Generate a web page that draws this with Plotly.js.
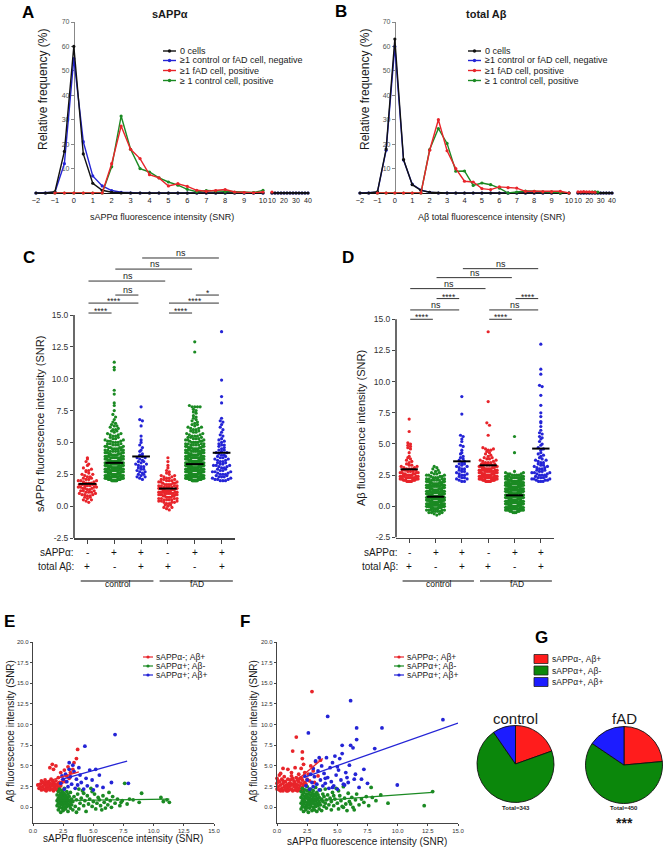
<!DOCTYPE html>
<html><head><meta charset="utf-8">
<script src="https://cdn.plot.ly/plotly-3.0.1.min.js"></script>
<style>html,body{margin:0;padding:0;background:#fff}#chart{width:666px;height:853px}</style>
</head><body><div id="chart"></div>
<script>
const W=666,H=853;
const FONT='Liberation Sans, Arial, Helvetica, sans-serif';
const RED='#e8242a',GREEN='#1b8a23',BLUE='#2424d6',BLACK='#111111';
const PRED='#ff1c1c',PGREEN='#0b870b',PBLUE='#1c1cff';

// ---------- Panels A/B: frequency distributions ----------
const binX=[-2,-1.5,-1,-0.5,0,0.5,1,1.5,2,2.5,3,3.5,4,4.5,5,5.5,6,6.5,7,7.5,8,8.5,9,9.5,10];
const tailX=[10,12.5,15,17.5,20,22.5,25,27.5,30,32.5,35,37.5,40];
const aBlack=[0,0,0.5,17,60,16,4,1.1,0.3,0,0,0,0,0,0,0,0,0,0,0,0,0,0,0,0];
const aBlue=[0,0,0.3,12,55,21,7,2.9,1,0.3,0,0,0,0,0,0,0,0,0,0,0,0,0,0,0];
const aRed=[null,null,0,0,0,0,0,0,12,27.4,17.9,14.1,7.5,6.2,2.9,3.8,2.7,1.1,0.7,1,1.4,0.4,0.2,0.1,0.4];
const aGreen=[null,null,0,0,0,0,0,0,10.7,31.5,17.9,10,8.6,6.2,4.5,3.2,1.5,0.5,1,0.8,0.5,0.3,0.2,0.2,1.1];
const aBlackT=[0,0,0,0,0,0,0,0,0,0,0,0,0];
const aRedT=[0.4,null,null,null,null,null,null,null,null,null,null,null,null];
const aGreenT=[null,null,null,null,null,null,null,null,null,null,null,null,null];
const bBlack=[0,0,0.5,18,63,13.7,3.4,1.1,0.3,0,0,0,0,0,0,0,0,0,0,0,0,0,0,0,0];
const bBlue=[0,0,0.3,17.5,60,13.5,3.6,1.2,0.3,0,0,0,0,0,0,0,0,0,0,0,0,0,0,0,0];
const bRed=[null,null,0,0,0,0,0,0,17.5,30,17.3,10,4.8,4.5,1.8,1.4,2.5,2.2,2,0.7,0.7,0.5,0.5,0.7,0];
const bGreen=[null,null,0,0,0,0,0,0,17.8,26.4,20.3,8.9,9,3.1,4.1,3.4,2,0,0.4,0.8,0.7,0.5,0.5,0,0];
const bBlackT=[0,0,0,0,0,0,0,0,0,0,0,0,0];
const bRedT=[0.5,0.5,0.6,0.5,0.5,0.4,0.3,null,null,null,null,null,null];
const bGreenT=[null,null,null,null,null,0.4,0.5,0.4,null,null,null,null,null];
const histLegend=['0 cells','≥1 control or fAD cell, negative','≥1 fAD cell, positive','≥ 1 control cell, positive'];

// ---------- Panels C/D: per-cell intensities (rows of 0.1 SNR, counts) ----------
const groupColors=[RED,GREEN,BLUE,RED,GREEN,BLUE];
const sappSign=['-','+','+','-','+','+'];
const abSign=['+','-','+','+','-','+'];
const cStart=[0.3,2.0,2.1,-0.3,2.0,2.0];
const cCounts=[
 [1,1,2,1,2,2,3,2,3,3,2,3,4,3,4,3,2,3,2,2,2,1,2,1,1,2,1,1,0,1,1,0,1,0,1,1],
 [7,8,8,8,8,8,8,8,8,8, 8,8,7,7,7,7,6,6,6,5, 5,5,5,4,4,4,4,3,3,3, 3,3,2,2,2,2,2,2,1,2, 2,1,1,2,1,1,1,0,1,0, 1,0,1,0,0,1,0,0,0,1, 0,1,0,0,0,0,0,0,1,0, 0,1,0,0,0,0,0,0,0,0, 0,0,0,0,0,0,0,1,0,1, 0,0,0,1],
 [1,1,2,1,2,1,2,1,2, 1,2,1,2,1,2,1,1,2,1, 1,1,0,1,1,0,1,0,1,0, 1,0,1,0,0,1,0,0,0,0, 0,0,0,1,0,0,0,1,1,0, 0,0,0,0,0,0,0,0,1],
 [1,1,2, 1,2,2,3,3,4,4,4,4,5, 5,5,5,5,5,4,4,4,3,3, 3,3,2,2,2,1,1,1,1,0, 1,0,1,0,0,1,0,0,1],
 [8,9,9,9,9,9,9,9,9,9, 9,9,8,8,8,8,7,7,7,7, 6,6,6,5,5,5,5,4,4,4, 4,3,3,3,3,3,2,2,2,2, 2,2,2,1,2,1,1,1,1,1, 1,1,0,1,1,1,1,0,4,1],
 [3,3,2,3,2,3,2,3,2,2, 2,2,3,2,2,2,2,2,2,2, 2,1,2,1,2,1,1,1,2,1, 1,1,1,1,0,1,1,0,1,0, 1,0,1,0,1,0,1,1,0,1]
];
const cExtra=[[],[],[],[],[12.1,12.9],[8.1,8.6,9.9,13.7]];
const cMid=[1.75,3.4,3.9,1.38,3.3,4.19];
const cSig=[[1,2,15.16,'****'],[1,3,15.94,'****'],[2,3,16.57,'ns'],[1,4,17.67,'ns'],[2,5,18.61,'ns'],[3,6,19.48,'ns'],[4,5,15.16,'****'],[4,6,15.94,'****'],[5,6,16.57,'*']];

const dStart=[2.0,-0.7,2.0,2.0,-0.5,2.0];
const dCounts=[
 [5,6,6,5,5,4,4,4,3,3, 3,2,2,2,1,1,1,1,1,1, 1,0,0,1,0,0,1,1,1,1, 1,1],
 [1,2,3,4,5,6,7, 9,9,9,9,9,9,9,9,9,9, 8,8,8,7,7,7,6,6,6,5, 5,4,4,3,3,3,2,2,1,1, 1,1,1],
 [2,1,2,2,1,2,2,1,2,1, 2,1,2,1,2,1,1,1,1,1, 1,0,1,1,0,1,0,0,1,1, 0,0,1,0,1,0,1,1],
 [6,7,7,7,7,6,6,6,5,5, 5,4,4,3,3,3,2,2,2,2, 1,1,1,1,1,2,2,1,0,0, 0,0,0,0,0,0,0,1],
 [3,4,6,8,9, 9,9,9,9,9,9,9,9,9,9, 9,9,9,9,9,9,8,8,8,8, 7,7,6,6,5,4,3,2,1],
 [3,3,3,3,2,3,2,3,2,2, 2,2,2,2,1,2,1,2,1,1, 1,1,1,1,0,1,1,1,0,1, 1,0,1,0,1,1,1,0,1,1, 0,1,0,0,1,0,0,1,1,0]
];
const dExtra=[[6.0,7.0],[],[7.4,8.8],[6.5,6.7,8.4,14.0],[4.3,5.6],[7.2,7.5,8.1,8.9,9.6,9.7,10.6,11.0,13.0]];
const dMid=[2.97,0.77,3.61,3.29,0.88,4.63];
const dSig=[[1,2,15.0,'****'],[1,3,15.75,'ns'],[2,3,16.66,'****'],[1,4,17.46,'ns'],[2,5,18.34,'ns'],[3,6,19.06,'ns'],[4,5,15.0,'****'],[4,6,15.75,'ns'],[5,6,16.66,'****']];

// ---------- Panels E/F: sAPPα (x) vs Aβ (y) ----------
const eRed=[[0.5,2.3],[0.6,2.8],[0.7,2.1],[0.8,2.5],[0.8,3.0],[0.9,2.2],[1.0,2.7],[1.0,3.3],[1.1,2.0],[1.1,2.4],[1.2,2.9],[1.2,2.2],[1.3,2.6],[1.3,3.1],[1.4,2.1],[1.4,2.4],[1.5,2.8],[1.5,3.4],[1.6,2.2],[1.6,2.6],[1.7,3.0],[1.7,2.0],[1.8,2.4],[1.8,2.8],[1.9,2.2],[1.9,3.2],[2.0,2.6],[2.0,2.1],[2.1,2.9],[2.1,2.4],[2.2,2.2],[2.2,3.0],[0.6,2.4],[0.9,2.9],[1.1,3.0],[1.4,2.9],[1.6,3.2],[2.3,2.6],[0.4,2.7],[1.0,2.1],[1.3,2.3],[1.9,2.7],[0.7,3.2],[1.2,2.6],
 [1.4,4.8],[1.6,5.2],[1.7,4.6],[1.9,5.0],[2.1,3.6],[2.3,4.2],[2.5,3.3],[2.6,4.5],[2.8,3.8],[2.9,4.9],[3.1,4.2],[3.3,4.6],[3.4,5.4],[3.6,5.9],[3.7,7.0],[2.4,3.0],[2.7,3.1],[3.0,3.5]];
const eGreen=[[2.0,0.2],[2.0,0.8],[2.0,1.5],[2.1,-0.3],[2.1,0.5],[2.1,1.1],[2.1,1.9],[2.2,0.0],[2.2,0.9],[2.2,1.4],[2.2,2.2],[2.3,-0.6],[2.3,0.3],[2.3,0.7],[2.3,1.2],[2.3,1.7],[2.4,-0.1],[2.4,0.5],[2.4,1.0],[2.4,1.5],[2.4,2.0],[2.5,-0.4],[2.5,0.2],[2.5,0.8],[2.5,1.3],[2.5,1.8],[2.6,0.0],[2.6,0.6],[2.6,1.1],[2.6,1.6],[2.6,2.3],[2.7,-0.2],[2.7,0.4],[2.7,0.9],[2.7,1.4],[2.8,0.1],[2.8,0.7],[2.8,1.2],[2.8,1.9],[2.9,-0.5],[2.9,0.4],[2.9,1.0],[2.9,1.6],[3.0,0.2],[3.0,0.8],[3.0,1.3],[3.1,-0.1],[3.1,0.6],[3.1,1.8],[3.2,0.3],[3.2,1.0],[3.3,-0.3],[3.3,0.7],[3.4,1.3],[3.5,0.1],
 [3.6,0.9],[3.7,1.6],[3.8,-0.2],[3.9,0.5],[4.0,1.1],[4.1,2.0],[4.2,0.2],[4.3,0.8],[4.4,-0.5],[4.5,1.4],[4.6,0.4],[4.7,1.0],[4.8,2.3],[4.9,0.1],[5.0,0.7],[5.1,1.6],[5.2,-0.2],[5.3,0.5],[5.4,1.2],[5.5,0.9],[5.6,0.2],[5.8,1.4],[5.9,0.6],[6.0,-0.1],[6.1,1.0],[6.2,0.3],[6.4,0.8],[6.5,0.0],[6.6,1.3],[6.8,0.5],[7.0,1.0],[7.2,0.2],[7.4,0.8],[7.6,2.9],[7.8,0.4],[8.0,1.0],[8.3,0.9],[8.8,0.6],[9.0,1.7],[10.6,1.2],[10.8,0.7],[11.1,0.9],[11.3,0.6],[4.2,1.7],[3.8,2.2],[5.7,-0.3],[6.3,1.8],[4.9,1.9],[3.6,-0.6],[7.3,0.6]];
const eBlue=[[2.3,2.9],[2.5,3.4],[2.6,2.2],[2.7,4.0],[2.8,3.1],[2.9,2.5],[3.0,5.4],[3.1,3.7],[3.2,2.8],[3.3,5.1],[3.4,4.3],[3.5,2.3],[3.6,3.4],[3.7,2.7],[3.8,4.8],[4.0,3.0],[4.2,2.2],[4.3,7.4],[4.5,2.6],[4.7,4.5],[4.9,3.3],[5.0,2.1],[5.3,2.6],[5.5,3.9],[5.8,2.4],[6.5,3.0],[6.8,8.8],[7.9,2.9],[2.4,3.8],[3.0,4.6],[3.9,3.9],[4.4,3.5],[5.2,4.6]];
const eFitRed=[[0.4,2.8],[3.8,4.3]];
const eFitGreen=[[2.0,0.8],[11.3,1.0]];
const eFitBlue=[[2.3,3.35],[7.8,5.6]];

const fRed=[[0.0,2.2],[0.0,2.9],[0.0,3.5],[0.1,2.5],[0.2,2.1],[0.2,3.1],[0.3,2.7],[0.4,2.3],[0.4,3.4],[0.5,2.0],[0.5,2.9],[0.6,2.5],[0.6,3.7],[0.7,2.2],[0.7,3.1],[0.8,2.7],[0.8,2.0],[0.9,3.4],[0.9,2.4],[1.0,2.9],[1.0,2.1],[1.1,2.6],[1.1,3.3],[1.2,2.2],[1.2,3.8],[1.3,2.8],[1.3,2.0],[1.4,2.5],[1.4,3.2],[1.5,2.1],[1.5,2.9],[1.6,2.4],[1.6,3.6],[1.7,2.0],[1.7,2.7],[1.8,3.1],[1.8,2.3],[1.9,2.6],[1.9,3.5],[2.0,2.1],[2.0,2.9],[2.1,2.4],[2.1,3.3],[2.2,2.0],[2.2,2.7],[2.3,3.0],[0.3,2.0],[0.5,3.2],[0.7,2.6],[0.9,2.0],[1.1,2.9],[1.3,3.5],[1.5,2.5],[1.7,3.3],[1.9,2.1],[2.1,2.0],[0.1,3.2],[1.0,2.5],[1.6,2.1],[2.0,3.6],
 [0.5,4.7],[0.9,4.6],[1.5,4.8],[2.0,4.7],[2.1,5.9],[1.3,6.8],[2.1,6.7],[1.6,8.5],[2.9,14.0],[2.3,4.2],[2.5,3.4],[2.6,4.0],[2.8,5.0],[3.0,4.4],[3.2,5.5],[3.4,3.8],[3.6,5.7],[2.4,2.8],[2.7,3.2],[1.2,4.2],[0.3,4.1],[1.8,4.0],[2.2,5.2],[0.2,3.9],[3.1,3.0]];
const fGreen=[[2.0,-0.2],[2.0,0.5],[2.0,1.2],[2.0,1.9],[2.1,0.1],[2.1,0.8],[2.1,1.5],[2.1,2.3],[2.2,-0.5],[2.2,0.4],[2.2,1.0],[2.2,1.8],[2.3,0.0],[2.3,0.7],[2.3,1.3],[2.3,2.1],[2.4,-0.3],[2.4,0.3],[2.4,1.1],[2.4,1.6],
 [2.5,0.0],[2.5,0.6],[2.5,1.3],[2.5,2.0],[2.5,2.5],[2.6,-0.6],[2.6,0.3],[2.6,0.9],[2.6,1.6],[2.7,-0.1],[2.7,0.5],[2.7,1.1],[2.7,1.9],[2.8,0.2],[2.8,0.8],[2.8,1.4],[2.8,2.2],[2.9,-0.4],[2.9,0.5],[2.9,1.0],[2.9,1.7],
 [3.0,0.0],[3.0,0.7],[3.0,1.3],[3.0,2.0],[3.1,-0.3],[3.1,0.4],[3.1,1.0],[3.1,1.6],[3.2,0.1],[3.2,0.8],[3.2,1.4],[3.2,2.4],[3.3,-0.5],[3.3,0.5],[3.3,1.1],[3.3,1.8],[3.4,0.2],[3.4,0.9],[3.4,1.5],
 [3.5,-0.2],[3.5,0.6],[3.5,1.2],[3.6,2.1],[3.6,0.3],[3.7,1.0],[3.7,-0.4],[3.8,0.7],[3.8,1.6],[3.9,0.1],[3.9,1.3],[4.0,0.5],[4.0,2.2],[4.1,-0.1],[4.1,0.9],[4.2,1.5],[4.3,0.3],[4.4,1.1],[4.5,-0.3],[4.5,0.7],
 [4.6,1.8],[4.7,0.2],[4.8,1.0],[4.9,2.3],[5.0,0.5],[5.1,-0.2],[5.2,1.4],[5.3,0.8],[5.4,0.1],[5.5,2.5],[5.6,1.1],[5.7,0.4],[5.8,-0.4],[5.9,1.7],[6.0,0.7],[6.1,0.4],[6.2,1.2],[6.3,0.0],[6.5,0.9],[6.6,1.6],[6.8,0.3],[7.0,1.0],[7.2,0.6],[7.4,1.3],[7.6,0.2],[7.8,2.4],[7.9,1.2],[8.2,0.8],[8.6,1.5],[9.2,0.5],[12.2,0.2],[12.9,1.9],[5.1,2.0],[6.4,-0.3],[4.7,1.4],[5.5,0.0]];
const fBlue=[[2.4,2.6],[2.5,3.3],[2.6,9.0],[2.7,2.2],[2.8,4.0],[2.9,3.0],[3.0,2.5],[3.1,3.7],[3.2,5.6],[3.3,2.8],[3.4,4.4],[3.5,2.1],[3.6,3.3],[3.7,5.0],[3.8,2.6],[3.9,4.1],[4.0,2.9],[4.1,6.0],[4.2,11.0],[4.2,3.6],[4.3,2.3],[4.4,4.8],[4.5,3.1],[4.6,5.4],[4.7,2.6],[4.8,6.2],[4.9,3.9],[5.0,2.2],[5.1,4.5],[5.2,5.9],[5.3,3.3],[5.4,6.5],[5.4,7.5],[5.5,2.8],[5.6,2.7],[5.7,4.2],[5.8,3.6],[6.0,5.1],[6.1,7.5],[6.1,12.9],[6.3,7.2],[6.4,3.4],[6.5,4.0],[6.6,8.2],[6.6,9.6],[6.8,2.4],[7.0,3.4],[7.2,4.6],[7.5,2.9],[8.1,7.1],[8.7,9.6],[9.97,2.7],[13.75,10.6],[2.3,3.8],[3.0,4.7],[3.5,6.0],[4.0,3.5],[4.6,2.4],[5.0,4.9],[5.9,3.0]];
const fFitRed=[[1.0,2.5],[3.8,5.9]];
const fFitGreen=[[2.0,0.65],[12.9,1.8]];
const fFitBlue=[[2.2,3.6],[15.0,10.2]];
const scatterLegend=['sAPPα-; Aβ+','sAPPα+; Aβ-','sAPPα+; Aβ+'];

// ---------- Panel G: pies ----------
const pieLabels=['sAPPα-, Aβ+','sAPPα+, Aβ-','sAPPα+, Aβ+'];
const ctrlPie=[67,243,33];
const fadPie=[106,274,70];

// ================= build =================
const traces=[],shapes=[],annotations=[];
const dxp=(a,b)=>[a/W,b/W];
const dyp=(top,bot)=>[1-bot/H,1-top/H];
function txt(t,x,y,size,o){o=o||{};annotations.push({text:o.bold?'<b>'+t+'</b>':t,xref:'paper',yref:'paper',x:x/W,y:1-y/H,showarrow:false,xanchor:o.xa||'center',yanchor:'middle',textangle:o.rot||0,borderpad:0,font:{family:FONT,size:size,color:o.color||'#1a1a1a'}});}
function pline(x0,y0,x1,y1,color,w){shapes.push({type:'line',xref:'paper',yref:'paper',x0:x0/W,x1:x1/W,y0:1-y0/H,y1:1-y1/H,line:{color:color,width:w}});}
function pdot(x,y,r,color){shapes.push({type:'circle',xref:'paper',yref:'paper',x0:(x-r)/W,x1:(x+r)/W,y0:1-(y+r)/H,y1:1-(y-r)/H,fillcolor:color,line:{width:0}});}
function prect(x0,y0,x1,y1,fill){shapes.push({type:'rect',xref:'paper',yref:'paper',x0:x0/W,x1:x1/W,y0:1-y1/H,y1:1-y0/H,fillcolor:fill,line:{color:'#222',width:0.8}});}

// A/B traces
function hist(xa,xt,ya,main,tail,color){
  traces.push({x:binX,y:main,xaxis:xa,yaxis:ya,mode:'lines+markers',line:{color:color,width:1.4},marker:{color:color,size:3.2},cliponaxis:false,hoverinfo:'skip'});
  traces.push({x:tailX,y:tail,xaxis:xt,yaxis:ya,mode:'lines+markers',line:{color:color,width:1.4},marker:{color:color,size:3.2},cliponaxis:false,hoverinfo:'skip'});
}
hist('x','x2','y',aBlue,aBlackT,BLUE);
hist('x','x2','y',aBlack,aBlackT,BLACK);
hist('x','x2','y',aGreen,aGreenT,GREEN);
hist('x','x2','y',aRed,aRedT,RED);
hist('x3','x4','y2',bBlue,bBlackT,BLUE);
hist('x3','x4','y2',bBlack,bBlackT,BLACK);
hist('x3','x4','y2',bGreen,bGreenT,GREEN);
hist('x3','x4','y2',bRed,bRedT,RED);

// C/D swarm traces
function expand(start,counts,extra){const v=[];counts.forEach((n,i)=>{const lv=Math.round((start+i*0.1)*100)/100;for(let k=0;k<n;k++)v.push(lv);});extra.forEach(e=>v.push(e));return v.sort((a,b)=>a-b);}
function swarm(vals,cat){
  const binH=0.25,sp=0.1,maxHalf=0.34,xs=[],ys=[],bins={};const mn=vals[0];
  vals.forEach(v=>{const b=Math.floor((v-mn)/binH+1e-6);(bins[b]=bins[b]||[]).push(v);});
  Object.keys(bins).forEach(k=>{const arr=bins[k],n=arr.length;const step=n>1?Math.min(sp,2*maxHalf/(n-1)):0;
    const pos=[];for(let j=0;j<n;j++)pos.push((j-(n-1)/2)*step);
    pos.sort((a,b)=>Math.abs(a)-Math.abs(b)||b-a);
    arr.forEach((v,i)=>{xs.push(cat+pos[i]);ys.push(v);});});
  return {x:xs,y:ys};
}
function swarmPanel(xa,ya,starts,counts,extras,mids,sig){
  for(let g=0;g<6;g++){
    const s=swarm(expand(starts[g],counts[g],extras[g]),g+1);
    traces.push({x:s.x,y:s.y,xaxis:xa,yaxis:ya,mode:'markers',marker:{color:groupColors[g],size:3.2},hoverinfo:'skip',cliponaxis:false});
  }
  for(let g=0;g<6;g++){
    traces.push({x:[g+1-0.33,g+1+0.33],y:[mids[g],mids[g]],xaxis:xa,yaxis:ya,mode:'lines',line:{color:'#000',width:2},hoverinfo:'skip'});
  }
  sig.forEach(s=>{
    shapes.push({type:'line',xref:xa,yref:ya,x0:s[0]+0.04,x1:s[1]-0.1,y0:s[2],y1:s[2],line:{color:'#333',width:1}});
    annotations.push({text:s[3],xref:xa,yref:ya,x:(s[0]+s[1])/2,y:s[2],yanchor:'bottom',showarrow:false,borderpad:0,yshift:s[3].indexOf('*')>=0?-4:-1,font:{family:FONT,size:s[3]==='ns'?9:8.5,color:'#222'}});
  });
  shapes.push({type:'line',xref:xa+' domain',yref:ya,x0:0,x1:0,y0:-2.5,y1:15,line:{color:'#444',width:1.6}});
  for(let g=0;g<6;g++){
    annotations.push({text:sappSign[g],xref:xa,yref:'paper',x:g+1,y:1-552/H,showarrow:false,font:{family:FONT,size:10,color:'#111'}});
    annotations.push({text:abSign[g],xref:xa,yref:'paper',x:g+1,y:1-566/H,showarrow:false,font:{family:FONT,size:10,color:'#111'}});
  }
  shapes.push({type:'line',xref:xa,yref:'paper',x0:0.75,x1:3.46,y0:1-581/H,y1:1-581/H,line:{color:'#111',width:1.2}});
  shapes.push({type:'line',xref:xa,yref:'paper',x0:3.69,x1:6.42,y0:1-581/H,y1:1-581/H,line:{color:'#111',width:1.2}});
  annotations.push({text:'control',xref:xa,yref:'paper',x:2.15,y:1-591/H,showarrow:false,font:{family:FONT,size:8.5,color:'#111'}});
  annotations.push({text:'fAD',xref:xa,yref:'paper',x:5.1,y:1-591/H,showarrow:false,font:{family:FONT,size:8.5,color:'#111'}});
}
swarmPanel('x5','y3',cStart,cCounts,cExtra,cMid,cSig);
swarmPanel('x6','y4',dStart,dCounts,dExtra,dMid,dSig);

// E/F scatter traces
function pts(xa,ya,arr,color){traces.push({x:arr.map(p=>p[0]),y:arr.map(p=>p[1]),xaxis:xa,yaxis:ya,mode:'markers',marker:{color:color,size:3.8},hoverinfo:'skip',cliponaxis:false});}
function fit(xa,ya,arr,color){traces.push({x:arr.map(p=>p[0]),y:arr.map(p=>p[1]),xaxis:xa,yaxis:ya,mode:'lines',line:{color:color,width:1.3},hoverinfo:'skip'});}
pts('x7','y5',eRed,RED);pts('x7','y5',eGreen,GREEN);pts('x7','y5',eBlue,BLUE);
fit('x7','y5',eFitRed,RED);fit('x7','y5',eFitGreen,GREEN);fit('x7','y5',eFitBlue,BLUE);
pts('x8','y6',fRed,RED);pts('x8','y6',fGreen,GREEN);pts('x8','y6',fBlue,BLUE);
fit('x8','y6',fFitRed,RED);fit('x8','y6',fFitGreen,GREEN);fit('x8','y6',fFitBlue,BLUE);

// pies
traces.push({type:'pie',values:ctrlPie,labels:pieLabels,sort:false,direction:'clockwise',rotation:0,textinfo:'none',hoverinfo:'skip',marker:{colors:[PRED,PGREEN,PBLUE],line:{color:'#111',width:0.9}},domain:{x:dxp(477,554),y:dyp(725.5,802.5)}});
traces.push({type:'pie',values:fadPie,labels:pieLabels,sort:false,direction:'clockwise',rotation:0,textinfo:'none',hoverinfo:'skip',marker:{colors:[PRED,PGREEN,PBLUE],line:{color:'#111',width:0.9}},domain:{x:dxp(585.5,662.5),y:dyp(726.5,803.5)}});

// ---- axes ----
const tf=(s,c)=>({family:FONT,size:s,color:c||'#222'});
function histX(dom,rng,vals){return {domain:dxp(dom[0],dom[1]),range:rng,tickvals:vals,ticks:'',showline:true,linecolor:'#111',linewidth:1.4,showgrid:false,zeroline:false,tickfont:tf(7.5),layer:'below traces',fixedrange:true};}
function histY(dom,xdomPx,xr){const p=(xdomPx[0]+(0-xr[0])/(xr[1]-xr[0])*(xdomPx[1]-xdomPx[0]))/W;
  return {domain:dyp(dom[0],dom[1]),range:[0,70],anchor:'free',position:p,tickvals:[10,20,30,40,50,60,70],ticks:'outside',ticklen:3,tickcolor:'#888',showline:true,linecolor:'#888',linewidth:1.6,showgrid:false,zeroline:false,tickfont:tf(7,'#555'),layer:'below traces',fixedrange:true};}
function catX(dom,ya){return {domain:dxp(dom[0],dom[1]),range:[0.5,6.5],anchor:ya,tickvals:[1,2,3,4,5,6],showticklabels:false,ticks:'outside',ticklen:4,tickcolor:'#444',showline:true,linecolor:'#444',linewidth:1.6,showgrid:false,zeroline:false,fixedrange:true};}
function catY(top,bot,xa){return {domain:dyp(top,bot),range:[-2.5,20.5],anchor:xa,tickvals:[-2.5,0,2.5,5,7.5,10,12.5,15],ticktext:['-2.5','0.0','2.5','5.0','7.5','10.0','12.5','15.0'],ticks:'outside',ticklen:3,tickcolor:'#444',showline:false,showgrid:false,zeroline:false,tickfont:tf(8.5,'#333'),fixedrange:true};}
function scX(dom,ya){return {domain:dxp(dom[0],dom[1]),range:[0,15],anchor:ya,tickvals:[0,2.5,5,7.5,10,12.5,15],ticktext:['0.0','2.5','5.0','7.5','10.0','12.5','15.0'],ticks:'outside',ticklen:2,tickcolor:'#444',showline:true,linecolor:'#444',linewidth:1.2,showgrid:false,zeroline:false,tickfont:tf(6,'#333'),fixedrange:true};}
function scY(top,bot,xa){return {domain:dyp(top,bot),range:[-1.9,20],anchor:xa,tickvals:[0,2.5,5,7.5,10,12.5,15,17.5,20],ticktext:['0.0','2.5','5.0','7.5','10.0','12.5','15.0','17.5','20.0'],ticks:'outside',ticklen:2,tickcolor:'#444',showline:true,linecolor:'#444',linewidth:1.2,showgrid:false,zeroline:false,tickfont:tf(6,'#333'),fixedrange:true};}

const layout={width:W,height:H,margin:{l:0,r:0,t:0,b:0},paper_bgcolor:'#fff',plot_bgcolor:'rgba(0,0,0,0)',showlegend:false,font:{family:FONT},
  xaxis:Object.assign(histX([36,263],[-2,10],[-2,-1,0,1,2,3,4,5,6,7,8,9,10]),{anchor:'y'}),
  xaxis2:Object.assign(histX([272,308],[10,40],[10,20,30,40]),{anchor:'y',tickfont:tf(7)}),
  yaxis:histY([22,193],[36,263],[-2,10]),
  xaxis3:Object.assign(histX([360,569],[-2,10],[-2,-1,0,1,2,3,4,5,6,7,8,9,10]),{anchor:'y2'}),
  xaxis4:Object.assign(histX([578,612],[10,40],[10,20,30,40]),{anchor:'y2',tickfont:tf(7)}),
  yaxis2:histY([22,193],[360,569],[-2,10]),
  xaxis5:catX([74,235],'y3'), yaxis3:catY(245,538,'x5'),
  xaxis6:catX([396,554],'y4'), yaxis4:catY(250.7,537.5,'x6'),
  xaxis7:scX([33,214],'y5'), yaxis5:scY(642,823,'x7'),
  xaxis8:scX([277,458],'y6'), yaxis6:scY(642,823,'x8'),
  shapes:shapes, annotations:annotations};

// panel letters
[['A',28,12],['B',341,11],['C',29,257],['D',348,257],['E',9,621],['F',245,621],['G',541,637]].forEach(l=>txt(l[0],l[1],l[2],17,{bold:true,color:'#000'}));
// A/B titles
txt('sAPPα',170,14,11,{bold:true});
txt('total Aβ',486,14,11,{bold:true});
txt('Relative frequency (%)',43,90,12,{rot:-90});
txt('Relative frequency (%)',365,90,12,{rot:-90});
txt('sAPPα fluorescence intensity (SNR)',162,217,9);
txt('Aβ total fluorescence intensity (SNR)',491,217,9);
// A/B legends
const histColors=[BLACK,BLUE,RED,GREEN];
const legRows=[51,60.5,70.5,80.5];
histLegend.forEach((t,i)=>{
  pline(163,legRows[i],176,legRows[i],histColors[i],1.4);pdot(169.5,legRows[i],1.7,histColors[i]);txt(t,179,legRows[i],9,{xa:'left'});
  pline(468,legRows[i],481,legRows[i],histColors[i],1.4);pdot(474.5,legRows[i],1.7,histColors[i]);txt(t,484,legRows[i],9,{xa:'left'});
});
// C/D titles
txt('sAPPα fluorescence intensity (SNR)',40,424,11,{rot:-90});
txt('Aβ fluorescence intensity (SNR)',361,428,11,{rot:-90});
txt('sAPPα:',75,552,10,{xa:'right'});txt('total Aβ:',75,566,10,{xa:'right'});
txt('sAPPα:',399,552,10,{xa:'right'});txt('total Aβ:',399,566,10,{xa:'right'});
// E/F titles and legends
txt('sAPPα fluorescence intensity (SNR)',123,838,10);
txt('sAPPα fluorescence intensity (SNR)',367,841,10);
txt('Aβ fluorescence intensity (SNR)',10,731,10,{rot:-90});
txt('Aβ fluorescence intensity (SNR)',253,731,10,{rot:-90});
const scColors=[RED,GREEN,BLUE];
const eRows=[657,666,675];
scatterLegend.forEach((t,i)=>{
  pline(143,eRows[i],153,eRows[i],scColors[i],1.2);pdot(148,eRows[i],1.6,scColors[i]);txt(t,155,eRows[i],8.5,{xa:'left'});
  pline(394,eRows[i],404,eRows[i],scColors[i],1.2);pdot(399,eRows[i],1.6,scColors[i]);txt(t,406,eRows[i],8.5,{xa:'left'});
});
// G legend and labels
const gRows=[659,670.5,682];const pieColors=[PRED,PGREEN,PBLUE];
pieLabels.forEach((t,i)=>{prect(534,gRows[i]-4.5,548,gRows[i]+4.5,pieColors[i]);txt(t,551,gRows[i],8.5,{xa:'left'});});
txt('control',515.5,718,15);txt('fAD',624,718,15);
txt('Total=343',515.5,808,6,{bold:true});txt('Total=450',624,808,6,{bold:true});
txt('***',624,823,14,{bold:true});

Plotly.newPlot('chart',traces,layout,{staticPlot:true,displayModeBar:false});
</script></body></html>
